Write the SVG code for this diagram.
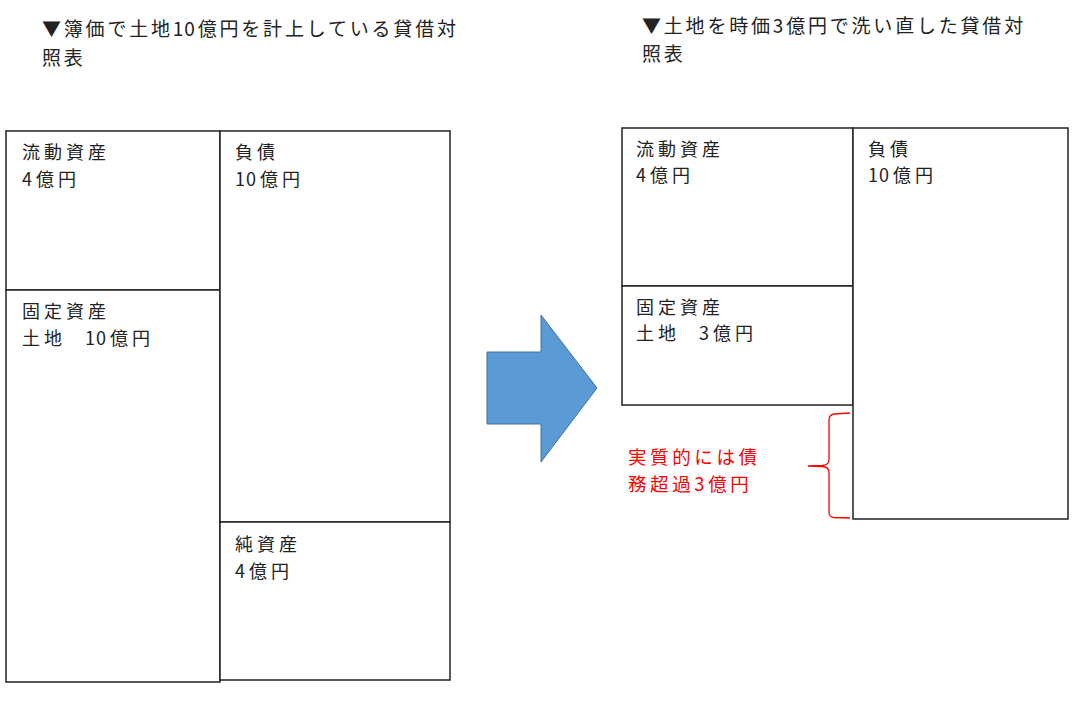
<svg xmlns="http://www.w3.org/2000/svg" width="1080" height="708" viewBox="0 0 1080 708">
<style>
text{font-family:"Noto Sans CJK JP","Noto Sans",sans-serif;font-size:19px;fill:#222;}
.title{letter-spacing:2.8px;}
.lbl{font-size:18px;letter-spacing:4px;}
.red{fill:#ff0000;font-size:18.5px;letter-spacing:3.6px;}
.n{letter-spacing:1px;}
.box{fill:#fff;stroke:#222;stroke-width:1.5;}
</style>
<rect width="1080" height="708" fill="#fff"/>
<g id="title-left">
<text class="title" x="42" y="36">▼簿価で土地<tspan class="n">1</tspan>0億円を計上している貸借対</text>
<text class="title" x="42" y="65">照表</text>
</g>
<g id="title-right">
<text class="title" x="642" y="33">▼土地を時価3億円で洗い直した貸借対</text>
<text class="title" x="642" y="61">照表</text>
</g>
<g id="left-current-assets">
<rect class="box" x="6" y="131" width="214" height="159"/>
<text class="lbl" x="22" y="159">流動資産</text>
<text class="lbl" x="22" y="185.5">4億円</text>
</g>
<g id="left-fixed-assets">
<rect class="box" x="6" y="290" width="214" height="392"/>
<text class="lbl" x="22" y="318">固定資産</text>
<text class="lbl" x="22" y="344.5">土地<tspan class="n">　1</tspan>0億円</text>
</g>
<g id="left-liabilities">
<rect class="box" x="220" y="131" width="230" height="391"/>
<text class="lbl" x="235" y="159">負債</text>
<text class="lbl" x="235" y="185.5"><tspan class="n">1</tspan>0億円</text>
</g>
<g id="left-net-assets">
<rect class="box" x="220" y="522" width="230" height="158"/>
<text class="lbl" x="235" y="551">純資産</text>
<text class="lbl" x="235" y="577.5">4億円</text>
</g>
<g id="arrow">
<polygon points="487,352 541,352 541,315 597,388 541,462 541,424 487,424" fill="#5b9bd5" stroke="#41719c" stroke-width="1"/>
</g>
<g id="right-current-assets">
<rect class="box" x="622" y="128" width="231" height="158"/>
<text class="lbl" x="636" y="155.5">流動資産</text>
<text class="lbl" x="636" y="182">4億円</text>
</g>
<g id="right-fixed-assets">
<rect class="box" x="622" y="286" width="231" height="119"/>
<text class="lbl" x="636" y="313.5">固定資産</text>
<text class="lbl" x="636" y="340">土地<tspan class="n">　</tspan>3億円</text>
</g>
<g id="right-liabilities">
<rect class="box" x="853" y="128" width="215" height="391"/>
<text class="lbl" x="868" y="155.5">負債</text>
<text class="lbl" x="868" y="182"><tspan class="n">1</tspan>0億円</text>
</g>
<g id="connectors">
<path d="M850,413 L834,414 Q829,415 829,420 L829,460 Q829,465 822,465.5 L808,466 L822,466.5 Q829,467 829,472 L829,512 Q829,517 834,517.5 L850,518" fill="none" stroke="#ff0000" stroke-width="1.3"/>
</g>
<g id="note">
<text class="red" x="628" y="464">実質的には債</text>
<text class="red" x="628" y="491">務超過3億円</text>
</g>
</svg>
